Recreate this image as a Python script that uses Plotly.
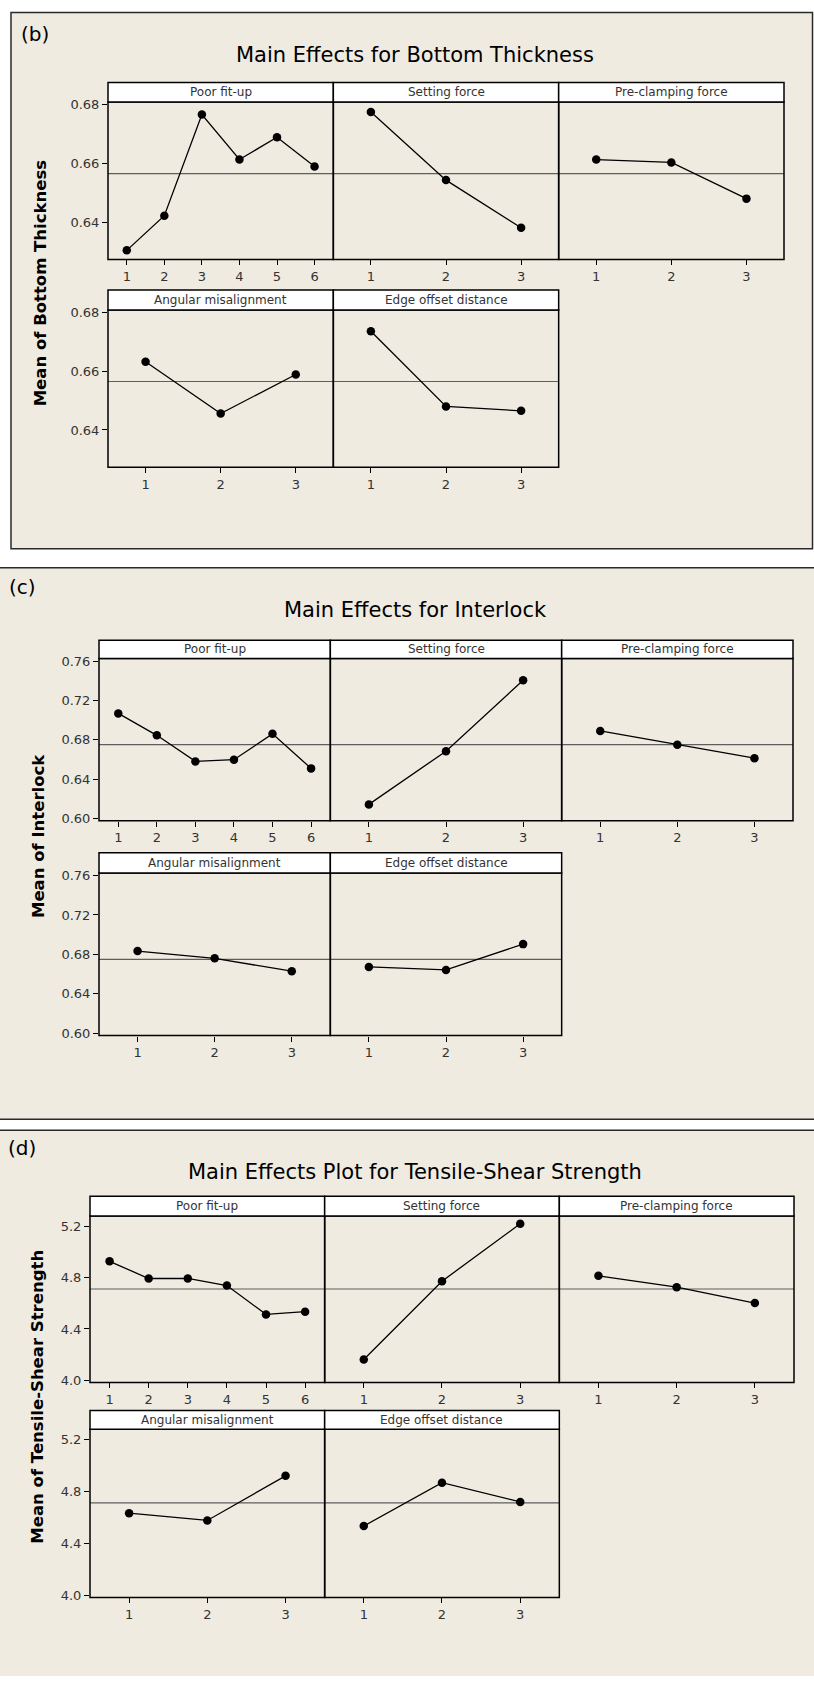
import plotly.graph_objects as go

W, H = 814, 1681

# ---------------- data ----------------
factors = ["Poor fit-up", "Setting force", "Pre-clamping force",
           "Angular misalignment", "Edge offset distance"]
levels_poor = [1, 2, 3, 4, 5, 6]
levels_3 = [1, 2, 3]

# (b) Bottom thickness
bt_poor = [0.6304, 0.6422, 0.6766, 0.6613, 0.6689, 0.6589]
bt_set = [0.6775, 0.6543, 0.6381]
bt_pre = [0.6613, 0.6603, 0.6480]
bt_ang = [0.6632, 0.6456, 0.6589]
bt_edge = [0.6736, 0.6480, 0.6465]
bt_mean = 0.6565
bt_ticks = [0.64, 0.66, 0.68]
bt_ticktext = ["0.64", "0.66", "0.68"]

# (c) Interlock
il_poor = [0.7068, 0.6845, 0.6580, 0.6597, 0.6860, 0.6509]
il_set = [0.6143, 0.6684, 0.7405]
il_pre = [0.6890, 0.6749, 0.6613]
il_ang = [0.6833, 0.6760, 0.6629]
il_edge = [0.6672, 0.6642, 0.6904]
il_mean = 0.6750
il_ticks = [0.60, 0.64, 0.68, 0.72, 0.76]
il_ticktext = ["0.60", "0.64", "0.68", "0.72", "0.76"]

# (d) Tensile-shear strength
ts_poor = [4.928, 4.794, 4.794, 4.739, 4.514, 4.535]
ts_set = [4.162, 4.773, 5.221]
ts_pre = [4.815, 4.726, 4.602]
ts_ang = [4.633, 4.577, 4.921]
ts_edge = [4.534, 4.868, 4.720]
ts_mean = 4.712
ts_ticks = [4.0, 4.4, 4.8, 5.2]
ts_ticktext = ["4.0", "4.4", "4.8", "5.2"]

panels = [
    dict(label="(b)", title="Main Effects for Bottom Thickness",
         ytitle="Mean of Bottom Thickness",
         series=[bt_poor, bt_set, bt_pre, bt_ang, bt_edge], mean=bt_mean,
         ticks=bt_ticks, ticktext=bt_ticktext, yrange=[0.6273, 0.6809]),
    dict(label="(c)", title="Main Effects for Interlock",
         ytitle="Mean of Interlock",
         series=[il_poor, il_set, il_pre, il_ang, il_edge], mean=il_mean,
         ticks=il_ticks, ticktext=il_ticktext, yrange=[0.5976, 0.7625]),
    dict(label="(d)", title="Main Effects Plot for Tensile-Shear Strength",
         ytitle="Mean of Tensile-Shear Strength",
         series=[ts_poor, ts_set, ts_pre, ts_ang, ts_edge], mean=ts_mean,
         ticks=ts_ticks, ticktext=ts_ticktext, yrange=[3.983, 5.281]),
]

# ---------------- layout geometry (pixels) ----------------
geom = [
    dict(xl=108, xr=784, rows=[(78, 97.5, 256), (286.7, 306.7, 465)],
         lab=(35, 29), tit=(415, 50), yt=(40, 280)),
    dict(xl=99, xr=793, rows=[(639, 657.5, 820.7), (852.7, 873.3, 1036.7)],
         lab=(22, 585), tit=(415, 609), yt=(38, 836)),
    dict(xl=90, xr=794, rows=[(1198.3, 1218.3, 1385.7), (1414, 1432.7, 1602)],
         lab=(22, 1150), tit=(415, 1173.5), yt=(38, 1400)),
]

BEIGE = "#EFEBE1"
FONT = "DejaVu Sans"
TICKCOL = "#333333"


def px(x):
    return x / W


def py(y):
    return 1 - y / H


fig = go.Figure()
shapes = []
annotations = []
layout_axes = {}

# background regions
shapes.append(dict(type="rect", xref="paper", yref="paper", x0=px(11), x1=px(812.5),
                   y0=py(547), y1=py(7.5), fillcolor=BEIGE,
                   line=dict(color="#2a2a2a", width=1.5), layer="below"))
shapes.append(dict(type="rect", xref="paper", yref="paper", x0=0, x1=1,
                   y0=py(1121), y1=py(566), fillcolor=BEIGE,
                   line=dict(width=0), layer="below"))
shapes.append(dict(type="rect", xref="paper", yref="paper", x0=0, x1=1,
                   y0=0, y1=py(1132), fillcolor=BEIGE,
                   line=dict(width=0), layer="below"))
for yl in [566, 1121, 1132]:
    shapes.append(dict(type="line", xref="paper", yref="paper", x0=0, x1=1,
                       y0=py(yl), y1=py(yl), line=dict(color="#2a2a2a", width=1.5)))

n = 0
for pi, (p, g) in enumerate(zip(panels, geom)):
    colw = (g["xr"] - g["xl"]) / 3
    for fi, fac in enumerate(factors):
        n += 1
        row = 0 if fi < 3 else 1
        col = fi if fi < 3 else fi - 3
        x0 = g["xl"] + col * colw
        x1 = x0 + colw
        st, pt, pb = g["rows"][row]
        lv = levels_poor if fi == 0 else levels_3
        xa = "x" if n == 1 else f"x{n}"
        ya = "y" if n == 1 else f"y{n}"
        xk = "xaxis" if n == 1 else f"xaxis{n}"
        yk = "yaxis" if n == 1 else f"yaxis{n}"

        fig.add_trace(go.Scatter(
            x=lv, y=p["series"][fi], xaxis=xa, yaxis=ya, mode="lines+markers",
            line=dict(color="black", width=1.3),
            marker=dict(color="black", size=8.5), showlegend=False,
            hoverinfo="x+y", cliponaxis=False))

        layout_axes[xk] = dict(
            domain=[px(x0), px(x1)], anchor=ya, range=[0.5, len(lv) + 0.5],
            tickvals=lv, ticktext=[str(v) for v in lv], ticks="outside", ticklen=5,
            tickwidth=1, tickcolor="black", showline=False, showgrid=False,
            zeroline=False, tickfont=dict(family=FONT, size=13, color=TICKCOL),
            fixedrange=True)
        layout_axes[yk] = dict(
            domain=[py(pb), py(pt)], anchor=xa, range=p["yrange"],
            tickvals=p["ticks"], ticktext=p["ticktext"],
            ticks="outside" if col == 0 else "", ticklen=5, tickwidth=1,
            tickcolor="black", showticklabels=(col == 0), showline=False,
            showgrid=False, zeroline=False,
            tickfont=dict(family=FONT, size=13, color=TICKCOL), fixedrange=True)

        # mean reference line
        shapes.append(dict(type="line", xref=f"{xa} domain", yref=ya, x0=0, x1=1,
                           y0=p["mean"], y1=p["mean"],
                           line=dict(color="#5e5e5e", width=1.2), layer="below"))
        # plot frame
        shapes.append(dict(type="rect", xref="paper", yref="paper",
                           x0=px(x0), x1=px(x1), y0=py(pb), y1=py(pt),
                           fillcolor="rgba(0,0,0,0)",
                           line=dict(color="black", width=1.5)))
        # strip
        shapes.append(dict(type="rect", xref="paper", yref="paper",
                           x0=px(x0), x1=px(x1), y0=py(pt), y1=py(st),
                           fillcolor="white", line=dict(color="black", width=1.5)))
        annotations.append(dict(text=fac, xref="paper", yref="paper",
                                x=px((x0 + x1) / 2), y=py((st + pt) / 2),
                                showarrow=False, xanchor="center", yanchor="middle",
                                font=dict(family=FONT, size=12, color=TICKCOL)))

    annotations.append(dict(text=p["label"], xref="paper", yref="paper",
                            x=px(g["lab"][0]), y=py(g["lab"][1]), showarrow=False,
                            xanchor="center", yanchor="middle",
                            font=dict(family=FONT, size=20, color="black")))
    annotations.append(dict(text=p["title"], xref="paper", yref="paper",
                            x=px(g["tit"][0]), y=py(g["tit"][1]), showarrow=False,
                            xanchor="center", yanchor="middle",
                            font=dict(family=FONT, size=21, color="black")))
    annotations.append(dict(text=p["ytitle"], xref="paper", yref="paper",
                            x=px(g["yt"][0]), y=py(g["yt"][1]), showarrow=False,
                            textangle=-90, xanchor="center", yanchor="middle",
                            font=dict(family=FONT, size=16.5, color="black",
                                      weight="bold")))

fig.update_layout(
    width=W, height=H, autosize=False,
    margin=dict(l=0, r=0, t=0, b=0, pad=0),
    paper_bgcolor="white", plot_bgcolor="white",
    shapes=shapes, annotations=annotations, showlegend=False,
    **layout_axes)

fig.write_html("out.html", config={"displayModeBar": False},
               post_script="document.body.style.margin='0';"
                           "document.body.style.padding='0';"
                           "document.body.style.overflow='hidden';")
